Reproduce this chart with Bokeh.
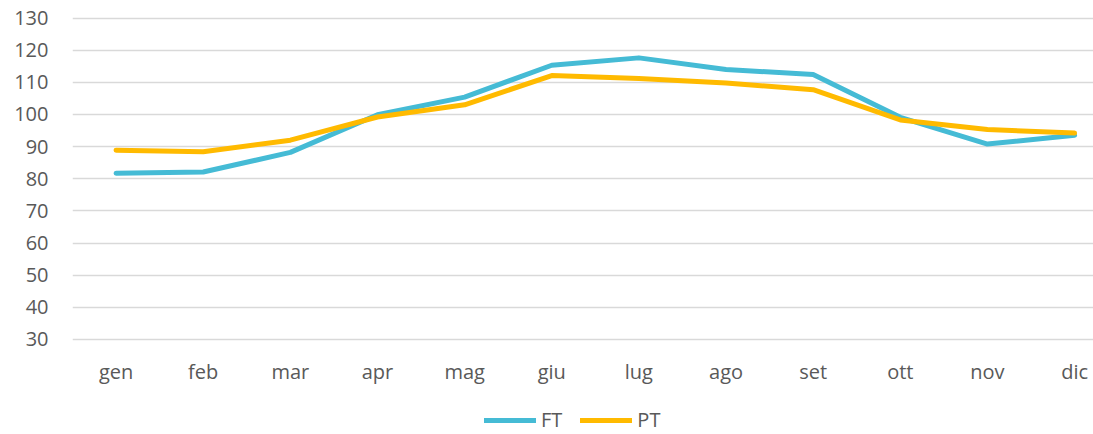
from bokeh.plotting import figure
from bokeh.models import (Range1d, FixedTicker, Legend, LegendItem, ColumnDataSource,
                          LinearAxis)
from bokeh.embed import file_html
from bokeh.resources import INLINE

months = ["gen", "feb", "mar", "apr", "mag", "giu", "lug", "ago", "set", "ott", "nov", "dic"]
ft = [81.7, 82.1, 88.2, 99.9, 105.4, 115.3, 117.6, 114.0, 112.4, 99.1, 90.8, 93.5]
pt = [88.9, 88.4, 92.0, 99.2, 103.0, 112.1, 111.2, 109.8, 107.7, 98.3, 95.3, 94.2]
y_ticks = [30, 40, 50, 60, 70, 80, 90, 100, 110, 120, 130]

xs = list(range(len(months)))
src = ColumnDataSource(dict(x=xs, ft=ft, pt=pt))

FONT = "Open Sans"
TXT = "#595959"

# frame spans down to the bottom edge; x axis is pinned at y=28
p = figure(width=1093, height=434, output_backend="svg", toolbar_location=None,
           x_range=Range1d(-0.5, 11.217), y_range=Range1d(0.45, 131.4),
           x_axis_location=None,
           min_border_left=72, min_border_right=0, min_border_top=13, min_border_bottom=0)
p.outline_line_color = None
p.background_fill_color = "white"
p.border_fill_color = "white"

r1 = p.line("x", "ft", source=src, line_color="#45BBD5", line_width=5,
            line_cap="round", line_join="round")
r2 = p.line("x", "pt", source=src, line_color="#FFBA00", line_width=5,
            line_cap="round", line_join="round")

xaxis = LinearAxis(fixed_location=28, ticker=FixedTicker(ticks=xs),
                   major_label_overrides={i: m for i, m in zip(xs, months)})
p.add_layout(xaxis, "below")
p.yaxis.ticker = FixedTicker(ticks=y_ticks)
for ax in (xaxis, p.yaxis[0]):
    ax.axis_line_color = None
    ax.major_tick_line_color = None
    ax.minor_tick_line_color = None
    ax.major_tick_out = 0
    ax.major_tick_in = 0
    ax.minor_tick_out = 0
    ax.minor_tick_in = 0
    ax.major_label_text_font = FONT
    ax.major_label_text_font_size = "20px"
    ax.major_label_text_color = TXT
p.yaxis.major_label_standoff = 24
xaxis.major_label_standoff = 12

p.xgrid.grid_line_color = None
p.ygrid.ticker = FixedTicker(ticks=y_ticks)
p.ygrid.grid_line_color = "#D9D9D9"
p.ygrid.grid_line_width = 1.6

legend = Legend(items=[LegendItem(label="FT", renderers=[r1]),
                       LegendItem(label="PT", renderers=[r2])],
                orientation="horizontal", location=(412, 1),
                border_line_color=None, background_fill_alpha=0,
                glyph_width=52, glyph_height=14, label_height=14,
                label_text_font=FONT, label_text_font_size="20px",
                label_text_color=TXT, spacing=18, label_standoff=5,
                padding=0, margin=0)
p.add_layout(legend, "center")

open("out.html", "w").write(file_html(p, INLINE))
